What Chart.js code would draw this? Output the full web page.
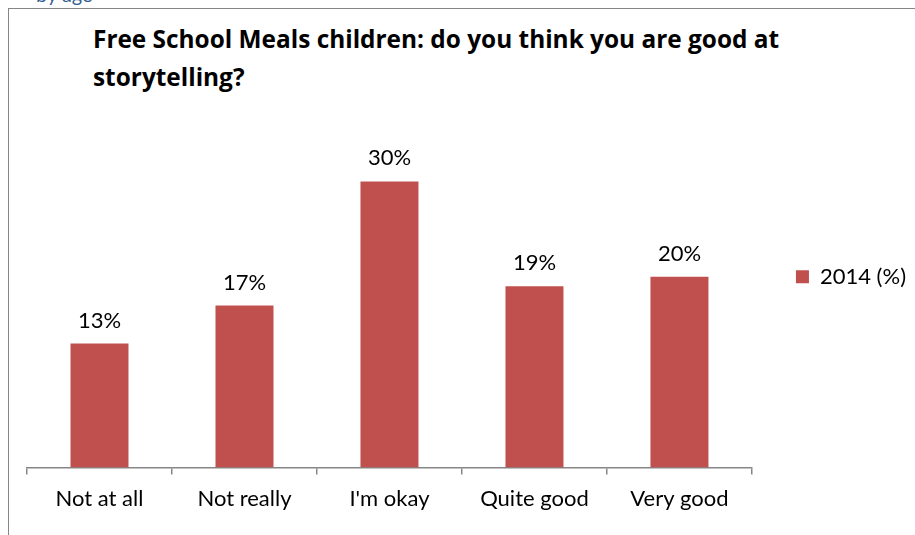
<!DOCTYPE html>
<html>
<head>
<meta charset="utf-8">
<script src="https://cdn.jsdelivr.net/npm/chart.js@4.4.0/dist/chart.umd.min.js"></script>
<style>
  html, body { margin: 0; padding: 0; background: #fff; }
  #wrap { position: relative; width: 915px; height: 535px; overflow: hidden; background: #fff; }
  #frame { position: absolute; left: 8px; top: 8px; right: 0; bottom: 0;
           border-left: 1px solid #868686; border-top: 1px solid #868686; }
  #heading { position: absolute; left: 36px; top: -18px; font-family: Lato, sans-serif;
             font-size: 20px; color: #365F91; white-space: nowrap; }
  #title { position: absolute; left: 93px; top: 20px; font-family: "Open Sans", sans-serif;
           font-weight: bold; font-size: 24.4px; line-height: 38px; color: #000; }
  canvas { position: absolute; left: 0; top: 0; }
</style>
</head>
<body>
<div id="wrap">
  <div id="heading">by age</div>
  <div id="frame"></div>
  <div id="title">Free School Meals children: do you think you are good at<br>storytelling?</div>
  <canvas id="c" width="916" height="535"></canvas>
</div>
<script>
const categories = ["Not at all", "Not really", "I'm okay", "Quite good", "Very good"];
const seriesName = "2014 (%)";
const values2014 = [13, 17, 30, 19, 20];

const FONT = "Lato, sans-serif";

const valueLabels = {
  id: 'valueLabels',
  afterDatasetsDraw(chart) {
    const ctx = chart.ctx;
    const meta = chart.getDatasetMeta(0);
    ctx.save();
    ctx.font = "22px " + FONT;
    ctx.fillStyle = "#000";
    ctx.textAlign = "center";
    ctx.textBaseline = "middle";
    meta.data.forEach((bar, i) => {
      ctx.fillText(chart.data.datasets[0].data[i] + "%", bar.x, bar.y - 23);
    });
    ctx.restore();
  }
};

new Chart(document.getElementById('c'), {
  type: 'bar',
  data: {
    labels: categories,
    datasets: [{
      label: seriesName,
      data: values2014,
      backgroundColor: '#C0504D',
      borderWidth: 0,
      barPercentage: 0.4,
      categoryPercentage: 1.0
    }]
  },
  options: {
    responsive: false,
    animation: false,
    events: [],
    layout: { padding: { left: 27, right: 0, top: 86, bottom: 12 } },
    plugins: {
      title: { display: false },
      tooltip: { enabled: false },
      legend: {
        position: 'right',
        align: 'center',
        fullSize: false,
        labels: {
          boxWidth: 13,
          boxHeight: 13,
          padding: 44,
          color: '#000',
          font: { family: FONT, size: 22 }
        }
      }
    },
    scales: {
      x: {
        offset: true,
        border: { display: true, color: '#868686', width: 1.5 },
        grid: { offset: true, drawOnChartArea: false, drawTicks: true, tickLength: 7, color: '#868686', lineWidth: 1.5 },
        ticks: { color: '#000', padding: 11, font: { family: FONT, size: 22 } }
      },
      y: {
        display: false,
        min: 0,
        max: 40
      }
    }
  },
  plugins: [valueLabels]
});
</script>
</body>
</html>
